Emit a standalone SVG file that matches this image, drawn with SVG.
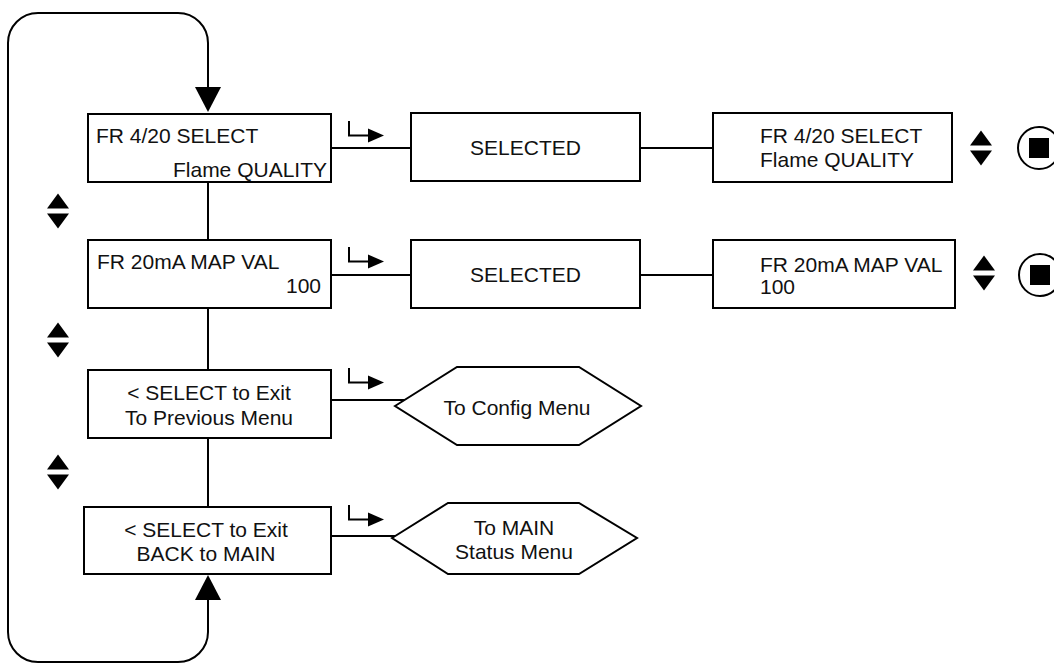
<svg xmlns="http://www.w3.org/2000/svg" xmlns:xlink="http://www.w3.org/1999/xlink" width="1054" height="664" viewBox="0 0 1054 664">
  <style>
    .box { fill: #fff; stroke: #000; stroke-width: 2; }
    .line { fill: none; stroke: #000; stroke-width: 2; }
    .t { font-family: "Liberation Sans", Arial, sans-serif; font-size: 21px; fill: #111; }
    .mid { text-anchor: middle; }
    .end { text-anchor: end; }
    .solid { fill: #000; stroke: none; }
  </style>
  <defs>
    <!-- large filled arrowhead for the return loop -->
    <marker id="bigArrow" markerUnits="userSpaceOnUse" viewBox="0 0 25 26" refX="0" refY="13"
            markerWidth="25" markerHeight="26" orient="auto-start-reverse">
      <path d="M0,0 L25,13 L0,26 Z" fill="#000"/>
    </marker>
    <!-- "enter" key glyph: down then right, with a filled head -->
    <g id="enterKey">
      <path class="line" d="M0,0 V14.5 H20"/>
      <polygon class="solid" points="19,7.5 35,14.5 19,21.5"/>
    </g>
    <!-- up/down scroll keys, centred on the origin -->
    <g id="upDown">
      <polygon class="solid" points="-11,-2.5 11,-2.5 0,-17.5"/>
      <polygon class="solid" points="-11,2.5 11,2.5 0,17.5"/>
    </g>
    <!-- stop/select button, centred on the origin -->
    <g id="stopBtn">
      <circle cx="0" cy="0" r="21" fill="#fff" stroke="#000" stroke-width="2"/>
      <rect x="-10" y="-10" width="20" height="20" fill="#000"/>
    </g>
  </defs>

  <rect width="1054" height="664" fill="#fff"/>

  <!-- connectors -->
  <g id="connectors">
    <!-- return loop from the last menu item back to the first -->
    <path class="line" marker-start="url(#bigArrow)" marker-end="url(#bigArrow)"
          d="M208,600 V632 A30,30 0 0 1 178,662 H38 A30,30 0 0 1 8,632 V43 A30,30 0 0 1 38,13 H178 A30,30 0 0 1 208,43 V87"/>
    <!-- vertical chain of menu items -->
    <path class="line" d="M208,182 V240"/>
    <path class="line" d="M208,308 V370"/>
    <path class="line" d="M208,438 V507"/>
    <!-- row 1 -->
    <path class="line" d="M331,148 H411"/>
    <path class="line" d="M640,148 H713"/>
    <!-- row 2 -->
    <path class="line" d="M331,275 H411"/>
    <path class="line" d="M640,275 H713"/>
    <!-- row 3 -->
    <path class="line" d="M331,400 H405"/>
    <!-- row 4 -->
    <path class="line" d="M331,536 H395"/>
    <!-- enter key glyphs above the horizontal links -->
    <use xlink:href="#enterKey" x="349" y="121"/>
    <use xlink:href="#enterKey" x="349" y="247"/>
    <use xlink:href="#enterKey" x="349" y="368"/>
    <use xlink:href="#enterKey" x="349" y="505"/>
    <!-- scroll keys between menu items -->
    <use xlink:href="#upDown" x="58" y="211"/>
    <use xlink:href="#upDown" x="58" y="340"/>
    <use xlink:href="#upDown" x="58" y="472"/>
  </g>

  <!-- menu item: FR 4/20 SELECT -->
  <g id="n-fr420">
    <rect class="box" x="88" y="114" width="243" height="68"/>
    <text class="t" x="96" y="143">FR 4/20 SELECT</text>
    <text class="t end" x="327" y="177">Flame QUALITY</text>
  </g>

  <g id="n-selected1">
    <rect class="box" x="411" y="113" width="229" height="68"/>
    <text class="t mid" x="525.5" y="155">SELECTED</text>
  </g>

  <g id="n-fr420-edit">
    <rect class="box" x="713" y="113" width="239" height="69"/>
    <text class="t" x="760" y="143">FR 4/20 SELECT</text>
    <text class="t" x="760" y="167">Flame QUALITY</text>
    <use xlink:href="#upDown" x="981" y="148"/>
    <use xlink:href="#stopBtn" x="1039" y="148"/>
  </g>

  <!-- menu item: FR 20mA MAP VAL -->
  <g id="n-fr20ma">
    <rect class="box" x="88" y="240" width="243" height="68"/>
    <text class="t" x="97" y="269">FR 20mA MAP VAL</text>
    <text class="t end" x="321" y="293">100</text>
  </g>

  <g id="n-selected2">
    <rect class="box" x="411" y="240" width="229" height="68"/>
    <text class="t mid" x="525.5" y="282">SELECTED</text>
  </g>

  <g id="n-fr20ma-edit">
    <rect class="box" x="713" y="240" width="242" height="68"/>
    <text class="t" x="760" y="272">FR 20mA MAP VAL</text>
    <text class="t" x="760" y="294">100</text>
    <use xlink:href="#upDown" x="984" y="273"/>
    <use xlink:href="#stopBtn" x="1040" y="275"/>
  </g>

  <!-- menu item: exit to previous menu -->
  <g id="n-exit-prev">
    <rect class="box" x="88" y="370" width="243" height="68"/>
    <text class="t mid" x="209" y="400">&lt; SELECT to Exit</text>
    <text class="t mid" x="209" y="425">To Previous Menu</text>
  </g>

  <g id="n-config">
    <polygon class="box" points="395,406 457,367 579,367 641,406 579,445 457,445"/>
    <text class="t mid" x="517" y="415">To Config Menu</text>
  </g>

  <!-- menu item: exit back to main -->
  <g id="n-exit-main">
    <rect class="box" x="84" y="507" width="247" height="67"/>
    <text class="t mid" x="206" y="537">&lt; SELECT to Exit</text>
    <text class="t mid" x="206" y="561">BACK to MAIN</text>
  </g>

  <g id="n-main-status">
    <polygon class="box" points="392,538 448,503 579,503 637,538 579,574 448,574"/>
    <text class="t mid" x="514" y="535">To MAIN</text>
    <text class="t mid" x="514" y="559">Status Menu</text>
  </g>
</svg>
